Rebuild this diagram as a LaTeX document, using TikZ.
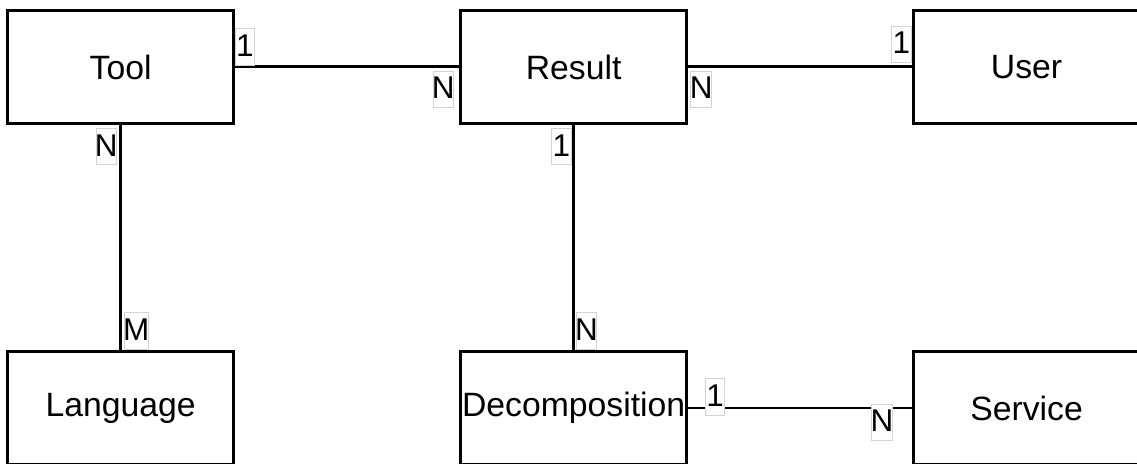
\documentclass[tikz,border=0pt]{standalone}
\usepackage{fontspec}
\setmainfont{Liberation Sans}
\usetikzlibrary{positioning}
\definecolor{erLine}{HTML}{000000}
\definecolor{erCardEdge}{HTML}{D3D3D3}
\tikzset{
    erEntity/.style={
        rectangle,
        draw=erLine,
        line width=1.7pt,
        outer sep=0pt,
        minimum width=4.52cm,
        minimum height=2.26cm,
        inner sep=0pt,
        font=\fontsize{19.2}{23}\selectfont
    },
    % Cardinality tags
    erCard/.style={
        rectangle,
        draw=erCardEdge,
        fill=white,
        line width=0.5pt,
        outer sep=0pt,
        inner xsep=-0.6pt,
        inner ysep=0pt,
        minimum width=0.39cm,
        text height=0.56cm,
        text depth=0.166cm,
        font=\fontsize{17.9}{21}\selectfont
    },
    % Links
    erLink/.style={draw=erLine, line width=1.7pt}
}

\begin{document}
\begin{tikzpicture}[node distance=4.54cm]
    \useasboundingbox (0,0) rectangle (22.74,-9.28);
    \node[erEntity] (tool) at (2.412,-1.34) {Tool};
    \node[erEntity, right=of tool] (result) {Result};
    \node[erEntity, right=of result] (user) {User};
    \node[erEntity, below=4.56cm of tool] (language) {Language};
    \node[erEntity, right=of language] (decomp) {Decomposition};
    \node[erEntity, right=of decomp] (service) {Service};
    \draw[erLink] (tool) -- (result);
    \draw[erLink] (result) -- (user);
    \draw[erLink] (tool) -- (language);
    \draw[erLink] (result) -- (decomp);
    \draw[erLink] (decomp) -- (service);
    \node[erCard, above right=0.04cm and 0.03cm of tool.east] (toolOne) {1};
    \node[erCard, below left=0.08cm and 0.14cm of result.west] (resultManyT) {N};
    \node[erCard, below right=0.08cm and 0.085cm of result.east] (resultManyU) {N};
    \node[erCard, above right=0.094cm and -0.44cm of user.west] (userOne) {1};
    \node[erCard, below left=0.096cm and 0.08cm of tool.south] (toolMany) {N};
    \node[erCard, above right=0.048cm and 0.074cm of language.north] (languageMany) {M};
    \node[erCard, below left=0.096cm and 0.05cm of result.south] (resultOne) {1};
    \node[erCard, above right=0.05cm and 0.05cm of decomp.north] (decompMany) {N};
    \node[erCard, right=0.376cm of decomp.east, yshift=0.22cm] (decompOne) {1};
    \node[erCard, below left=-0.08cm and 0.426cm of service.west] (serviceMany) {N};
\end{tikzpicture}
\end{document}
